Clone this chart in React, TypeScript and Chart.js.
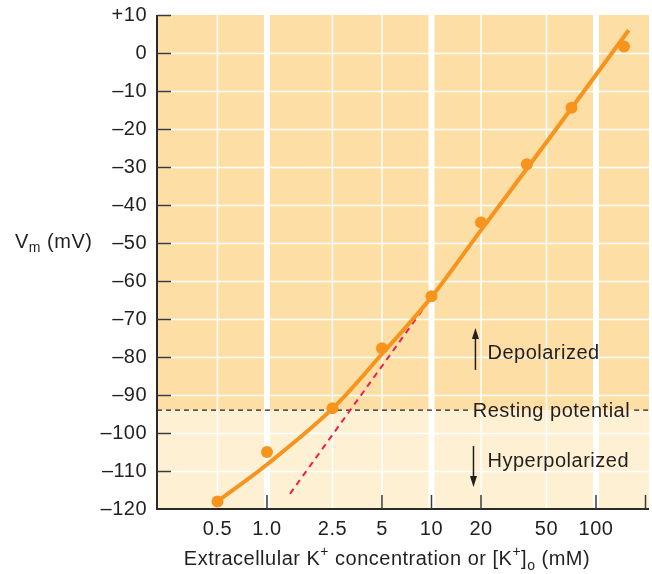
import React, { useEffect, useRef } from "react";
import { Chart, registerables } from "chart.js";

Chart.register(...registerables);

// ---- data ----
const xTickValues = [0.5, 1, 2.5, 5, 10, 20, 50, 100];
const xTickLabels = ["0.5", "1.0", "2.5", "5", "10", "20", "50", "100"];
const thickGridValues = [1, 10, 100];
const bottomTickValues = [1, 5, 10, 20, 100, 200];

const pointK = [0.5, 1.0, 2.5, 5, 10, 20, 38, 71, 148];
const pointVm = [-118, -105, -93.5, -77.7, -64, -44.6, -29.3, -14.4, 1.7];

const curveK = [0.5, 1.0, 2.5, 5, 10, 20, 50, 158];
const curveVm = [-118, -108.3, -93.6, -79.2, -64.2, -46.6, -23.5, 6];

const nernstK = [1.38, 10];
const nernstVm = [-116, -64.3];

const restingPotential = -94;

const FONT = '"Liberation Sans", Arial, Helvetica, sans-serif';
const TEXT = "#231f20";
const ORANGE = "#f7941d";
const RED = "#ee1d4f";
const BG_UP = "#fddea5";
const BG_LOW = "#fef0d2";
const SPACING = "0.5px";
const FS = 20;
const FS_SMALL = 14;

const setSpacing = (chart: any) => {
  try {
    (chart.ctx as any).letterSpacing = SPACING;
  } catch (e) {}
};

const decorPlugin = {
  id: "decor",
  beforeUpdate: setSpacing,
  beforeLayout: setSpacing,
  beforeDraw: setSpacing,
  beforeDatasetsDraw(chart: any) {
    const ctx = chart.ctx;
    const { left, right, top, bottom } = chart.chartArea;
    const xs = chart.scales.x;
    const ys = chart.scales.y;
    const yRest = ys.getPixelForValue(restingPotential);
    ctx.save();
    ctx.letterSpacing = SPACING;
    // backgrounds
    ctx.fillStyle = BG_UP;
    ctx.fillRect(left, top, right - left, yRest - top);
    ctx.fillStyle = BG_LOW;
    ctx.fillRect(left, yRest, right - left, bottom - yRest);
    // horizontal grid
    ctx.strokeStyle = "#ffffff";
    ctx.lineWidth = 1.5;
    for (let v = 0; v >= -110; v -= 10) {
      const y = Math.round(ys.getPixelForValue(v)) + 0.5;
      ctx.beginPath();
      ctx.moveTo(left, y);
      ctx.lineTo(right, y);
      ctx.stroke();
    }
    // vertical grid
    xTickValues.forEach((v) => {
      const x = xs.getPixelForValue(v);
      const thick = thickGridValues.includes(v);
      ctx.lineWidth = thick ? 6 : 1.5;
      ctx.beginPath();
      ctx.moveTo(x, top);
      ctx.lineTo(x, bottom);
      ctx.stroke();
    });
    // resting potential dashed line with gap for text
    ctx.font = `${FS}px ${FONT}`;
    const restLabel = "Resting potential";
    const tx = xs.getPixelForValue(17.8);
    const tw = ctx.measureText(restLabel).width;
    ctx.strokeStyle = "#222";
    ctx.lineWidth = 1.3;
    ctx.setLineDash([5, 4]);
    ctx.beginPath();
    ctx.moveTo(left, yRest);
    ctx.lineTo(tx - 3, yRest);
    ctx.moveTo(tx + tw + 4, yRest);
    ctx.lineTo(right, yRest);
    ctx.stroke();
    ctx.setLineDash([]);
    ctx.fillStyle = TEXT;
    ctx.textBaseline = "middle";
    ctx.textAlign = "left";
    ctx.fillText(restLabel, tx, yRest + 1);
    const drawArrow = (x: number, y0: number, y1: number) => {
      const dir = y1 < y0 ? -1 : 1;
      ctx.strokeStyle = TEXT;
      ctx.fillStyle = TEXT;
      ctx.lineWidth = 1.5;
      ctx.beginPath();
      ctx.moveTo(x, y0);
      ctx.lineTo(x, y1 - dir * 8);
      ctx.stroke();
      ctx.beginPath();
      ctx.moveTo(x, y1);
      ctx.lineTo(x - 3.5, y1 - dir * 11);
      ctx.lineTo(x + 3.5, y1 - dir * 11);
      ctx.closePath();
      ctx.fill();
    };
    // depolarized
    drawArrow(xs.getPixelForValue(18.5), ys.getPixelForValue(-83.4), ys.getPixelForValue(-72.4));
    ctx.fillStyle = TEXT;
    ctx.fillText("Depolarized", xs.getPixelForValue(21.9), ys.getPixelForValue(-79.0));
    // hyperpolarized
    drawArrow(xs.getPixelForValue(18), ys.getPixelForValue(-103.4), ys.getPixelForValue(-114.2));
    ctx.fillStyle = TEXT;
    ctx.fillText("Hyperpolarized", xs.getPixelForValue(21.9), ys.getPixelForValue(-107.6));
    // axes lines
    ctx.strokeStyle = "#2a2a2a";
    ctx.lineWidth = 2;
    ctx.beginPath();
    ctx.moveTo(left, top);
    ctx.lineTo(left, bottom);
    ctx.lineTo(right, bottom);
    ctx.stroke();
    // inward ticks left
    ctx.strokeStyle = "#3a3a3a";
    ctx.lineWidth = 1.5;
    for (let v = 10; v >= -110; v -= 10) {
      const y = Math.round(ys.getPixelForValue(v)) + 0.5;
      ctx.beginPath();
      ctx.moveTo(left, y);
      ctx.lineTo(left + 14, y);
      ctx.stroke();
    }
    // inward ticks bottom
    bottomTickValues.forEach((v) => {
      let x = xs.getPixelForValue(v);
      if (x > right - 1) x = right - 1;
      ctx.beginPath();
      ctx.moveTo(x, bottom);
      ctx.lineTo(x, bottom - 14);
      ctx.stroke();
    });
    ctx.restore();
  },
  afterDraw(chart: any) {
    const ctx = chart.ctx;
    const { left, right } = chart.chartArea;
    const ys = chart.scales.y;
    ctx.save();
    ctx.letterSpacing = SPACING;
    ctx.fillStyle = TEXT;
    ctx.textBaseline = "alphabetic";
    ctx.textAlign = "left";
    // y title: Vm (mV)
    const yBase = ys.getPixelForValue(-51.4);
    let x = 15;
    ctx.font = `${FS}px ${FONT}`;
    ctx.fillText("V", x, yBase);
    x += ctx.measureText("V").width;
    ctx.font = `${FS_SMALL}px ${FONT}`;
    ctx.fillText("m", x, yBase + 4);
    x += ctx.measureText("m").width;
    ctx.font = `${FS}px ${FONT}`;
    ctx.fillText(" (mV)", x, yBase);
    // x title
    const parts: [string, string][] = [
      ["Extracellular K", "n"],
      ["+", "sup"],
      [" concentration or [K", "n"],
      ["+", "sup"],
      ["]", "n"],
      ["o", "sub"],
      [" (mM)", "n"],
    ];
    const base = 565;
    let total = 0;
    parts.forEach(([t, k]) => {
      ctx.font = k === "n" ? `${FS}px ${FONT}` : `${FS_SMALL}px ${FONT}`;
      total += ctx.measureText(t).width;
    });
    let px = (left + right) / 2 - total / 2 - 16;
    parts.forEach(([t, k]) => {
      ctx.font = k === "n" ? `${FS}px ${FONT}` : `${FS_SMALL}px ${FONT}`;
      const dy = k === "sup" ? -9 : k === "sub" ? 5 : 0;
      ctx.fillText(t, px, base + dy);
      px += ctx.measureText(t).width;
    });
    ctx.restore();
  },
};

export default function App() {
  const ref = useRef<HTMLCanvasElement>(null);
  useEffect(() => {
    document.body.style.margin = "0";
    const canvas = ref.current!;
    const chart = new Chart(canvas, {
      type: "line",
      data: {
        datasets: [
          {
            label: "points",
            data: pointK.map((k, i) => ({ x: k, y: pointVm[i] })),
            showLine: false,
            pointRadius: 6,
            pointBackgroundColor: ORANGE,
            pointBorderWidth: 0,
            borderColor: ORANGE,
            order: 0,
          },
          {
            label: "curve",
            data: curveK.map((k, i) => ({ x: k, y: curveVm[i] })),
            borderColor: ORANGE,
            borderWidth: 4,
            pointRadius: 0,
            tension: 0.35,
            borderCapStyle: "butt",
            order: 1,
          },
          {
            label: "nernst",
            data: nernstK.map((k, i) => ({ x: k, y: nernstVm[i] })),
            borderColor: RED,
            borderWidth: 2,
            borderDash: [6, 5],
            pointRadius: 0,
            order: 2,
          },
        ],
      },
      options: {
        animation: false,
        responsive: false,
        layout: { autoPadding: false, padding: { top: 15, right: 3, left: 0, bottom: 0 } },
        plugins: { legend: { display: false }, tooltip: { enabled: false } },
        scales: {
          x: {
            type: "logarithmic",
            min: 0.2145,
            max: 210,
            afterBuildTicks: (scale: any) => {
              scale.ticks = xTickValues.map((v) => ({ value: v }));
            },
            afterFit: (scale: any) => {
              scale.height = 65;
              scale.paddingLeft = 0;
              scale.paddingRight = 0;
            },
            grid: { display: false, drawTicks: false },
            border: { display: false },
            ticks: {
              autoSkip: false,
              maxRotation: 0,
              padding: 8,
              color: TEXT,
              font: { family: FONT, size: FS },
              callback: (_v: any, i: number) => xTickLabels[i],
            },
          },
          y: {
            type: "linear",
            min: -120,
            max: 10,
            afterFit: (scale: any) => {
              scale.width = 157;
              scale.paddingTop = 0;
              scale.paddingBottom = 0;
            },
            grid: { display: false, drawTicks: false },
            border: { display: false },
            ticks: {
              stepSize: 10,
              padding: 10,
              color: TEXT,
              font: { family: FONT, size: FS },
              callback: (v: any) =>
                v > 0 ? "+" + v : v < 0 ? "\u2013" + Math.abs(v) : "0",
            },
          },
        },
      },
      plugins: [decorPlugin],
    } as any);
    return () => chart.destroy();
  }, []);
  return (
    <div style={{ width: 652, height: 574 }}>
      <canvas ref={ref} width={652} height={574} style={{ display: "block" }} />
    </div>
  );
}
